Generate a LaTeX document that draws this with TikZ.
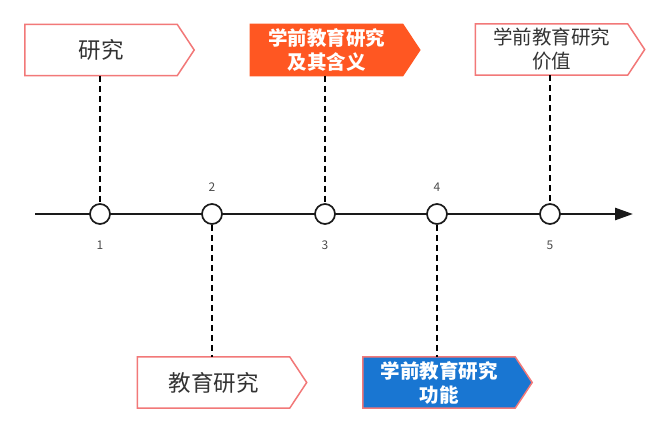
\documentclass[tikz,border=0pt]{standalone}
\usepackage{fontspec}
\setmainfont{Noto Sans CJK SC}
\usetikzlibrary{arrows.meta,backgrounds}

\definecolor{boxpink}{HTML}{F27878}
\definecolor{boxorange}{HTML}{FF5722}
\definecolor{boxblue}{HTML}{1976D2}
\definecolor{txtgray}{HTML}{333333}
\definecolor{axisblack}{HTML}{1A1A1A}

\tikzset{
  tag/.style={minimum width=152pt, minimum height=51pt, inner sep=0pt, align=center, text=txtgray},
  onefont/.style={font=\fontsize{22.5}{24}\selectfont},
  twofont/.style={font=\fontsize{19.5}{24}\selectfont},
  boldfont/.style={font=\fontsize{19.5}{24}\selectfont\bfseries, text=white},
  dot/.style={circle, draw=axisblack, line width=1.7pt, fill=white, minimum size=20pt, inner sep=0pt},
  num/.style={font=\fontsize{12}{14}\selectfont, text=black!70},
  link/.style={draw=black, line width=1.7pt, dash pattern=on 6pt off 4pt},
}

\begin{document}
\begin{tikzpicture}[x=1pt, y=-1pt]
                \useasboundingbox (0,0) rectangle (669,432);

                % Axis
                \coordinate (start) at (35,214);
                \coordinate (end) at (633,214);
                \draw[axisblack, line width=2.6pt, -{Triangle[length=18pt,width=12pt]}] (start) -- (end);

                % Nodes
                \node[dot] (c1) at (100,214) {};
                \node[dot] (c2) at (212,214) {};
                \node[dot] (c3) at (325,214) {};
                \node[dot] (c4) at (437,214) {};
                \node[dot] (c5) at (550,214) {};

                \node[num] (n1) at (100,245) {1};
                \node[num] (n2) at (212,187) {2};
                \node[num] (n3) at (325,245) {3};
                \node[num] (n4) at (437,187) {4};
                \node[num] (n5) at (550,245) {5};

                \node[tag, onefont] (b1) at (101,50) {研究};
                \node[tag, boldfont] (b2) at (326.5,50) {学前教育研究\\及其含义};
                \node[tag, twofont] (b3) at (551.5,49.5) {学前教育研究\\价值};
                \node[tag, onefont] (b4) at (213.5,382.5) {教育研究};
                \node[tag, boldfont] (b5) at (439,382.5) {学前教育研究\\功能};

                % Outlines
                \begin{scope}[on background layer]
                \foreach \b/\f/\d in {b1/white/boxpink, b2/boxorange/boxorange, b3/white/boxpink, b4/white/boxpink, b5/boxblue/boxpink}
                  \draw[fill=\f, draw=\d, line width=1.5pt, line join=miter]
                    (\b.north west) -- (\b.north east) -- ([xshift=17pt]\b.east)
                    -- (\b.south east) -- (\b.south west) -- cycle;
                \end{scope}

                % Edges
                \draw[link] (b1.south -| c1) -- (c1.north);
                \draw[link] (c2.south) -- (b4.north -| c2);
                \draw[link] (b2.south -| c3) -- (c3.north);
                \draw[link] (c4.south) -- (b5.north -| c4);
                \draw[link] (b3.south -| c5) -- (c5.north);
            \end{tikzpicture}
\end{document}
